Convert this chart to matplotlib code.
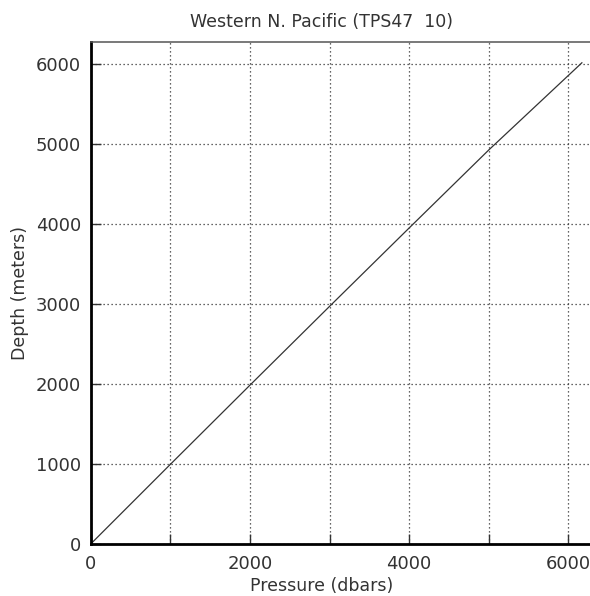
import matplotlib.pyplot as plt
from matplotlib.ticker import MultipleLocator

# pressure / depth profile
pressure = [0, 1000, 2000, 3000, 4000, 5000, 6170]
depth = [0, 995, 1985, 2970, 3950, 4925, 6015]

x_ticks = [0, 2000, 4000, 6000]
y_ticks = [0, 1000, 2000, 3000, 4000, 5000, 6000]

W, H = 590, 596
fig = plt.figure(figsize=(W / 100, H / 100), dpi=100)
# axes: left 90.7px, bottom 544px, top 42px, right runs off the image
ax = fig.add_axes([90.7 / W, (H - 544) / H, (W - 90.7) / W, (544 - 42) / H])

ax.plot(pressure, depth, color="#333333", lw=0.9)

ax.set_xlim(0, 6272)
ax.set_ylim(0, 6275)
ax.set_xticks(x_ticks)
ax.xaxis.set_minor_locator(MultipleLocator(1000))
ax.set_yticks(y_ticks)

grid_style = dict(color="#333333", lw=0.9, linestyle=(0, (1, 2.2)))
ax.grid(True, which="both", axis="x", **grid_style)
ax.grid(True, which="major", axis="y", **grid_style)

ax.tick_params(which="both", direction="in", length=7, width=1,
               color="#333333", labelsize=13, labelcolor="#333333")
ax.tick_params(axis="x", pad=8)
ax.tick_params(axis="y", pad=7)

for side in ["left", "bottom"]:
    ax.spines[side].set_linewidth(2.0)
    ax.spines[side].set_color("black")
ax.spines["top"].set_linewidth(1.1)
ax.spines["top"].set_color("#555555")
ax.spines["right"].set_visible(False)

fig.text(322 / W, 1 - 22 / H, "Western N. Pacific (TPS47  10)",
         ha="center", va="center", fontsize=12.5, color="#333333")
fig.text(322 / W, 1 - 586 / H, "Pressure (dbars)",
         ha="center", va="center", fontsize=12.5, color="#333333")
fig.text(20 / W, 1 - 293 / H, "Depth (meters)", rotation=90,
         ha="center", va="center", fontsize=12.5, color="#333333")

fig.savefig("out.png", dpi=100)
